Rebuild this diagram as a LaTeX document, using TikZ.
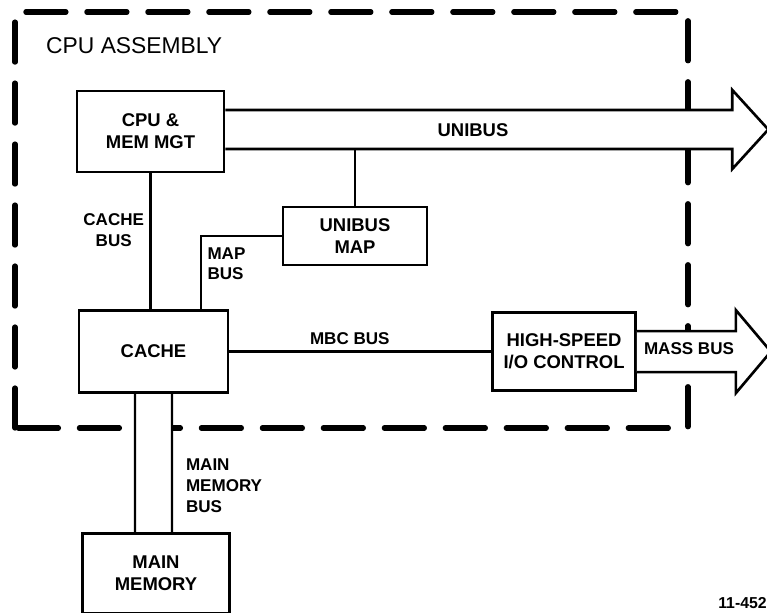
\documentclass[tikz,border=0pt]{standalone}
\usepackage{fontspec}
\setmainfont{Liberation Sans}
\usetikzlibrary{positioning, calc}

\begin{document}
\begin{tikzpicture}[
    x=0.02cm, y=-0.02cm,
    font=\fontsize{10.5}{12.5}\selectfont\bfseries,
    base/.style={draw, align=center, line width=1.5pt, inner sep=2pt},
    unit/.style={base, rectangle, minimum width=2.94cm, minimum height=1.64cm},
    mapbox/.style={base, rectangle, minimum width=2.88cm, minimum height=1.16cm},
    iobox/.style={base, rectangle, minimum width=2.86cm, minimum height=1.56cm},
    lbl/.style={font=\fontsize{9.7}{11.8}\selectfont\bfseries, align=center, inner sep=3pt},
    link/.style={line width=1.4pt},
    widebus/.style={line width=1.5pt, fill=white, line join=miter},
    frame/.style={line width=3pt, dash pattern=on 0.8cm off 0.42cm, line cap=round}
  ]
    \useasboundingbox (0,0) rectangle (767,612);
    % assembly boundary
    \draw[frame] (15,428) -- (15,12) -- (688,12) -- (688,428) -- cycle;
    \node[anchor=west, font=\fontsize{13}{15}\selectfont] (asm) at (40,46) {CPU ASSEMBLY};

    \node[unit, minimum height=1.62cm] (cpu) at (150.5,131.5) {CPU \&\\MEM MGT};
    \node[unit, minimum width=2.98cm, below=2.72cm of cpu, xshift=0.06cm] (cache) {CACHE};
    \node[unit, minimum height=1.6cm, below=2.76cm of cache, xshift=0.05cm] (mem) {MAIN\\MEMORY};
    \node[mapbox] (umap) at (355,236) {UNIBUS\\MAP};
    \node[iobox, right=5.24cm of cache] (hsio) {HIGH-SPEED\\I/O CONTROL};

    % wide buses
    \filldraw[widebus] (cpu.east) ++(0,-21.5) -- ++(507,0) -- ++(0,-20) -- ++(36,39.5)
      -- ++(-36,39.5) -- ++(0,-20) -- ++(-507,0) coordinate (ubase);
    \node[lbl, font=\fontsize{10.5}{12}\selectfont\bfseries] (unibus) at (473,130) {UNIBUS};
    \filldraw[widebus] (hsio.east) ++(0,-20.5) -- ++(99,0) -- ++(0,-21) -- ++(35,41.5)
      -- ++(-35,41.5) -- ++(0,-21) -- ++(-99,0);
    \node[lbl] (mass) at (689,349) {MASS BUS};

    % single buses
    \draw[link] (umap.north) -- (umap.north |- ubase);
    \draw[link] (cpu.south) -- (cpu.south |- cache.north)
      node[lbl, pos=0.42, left] {CACHE\\BUS};
    \draw[link] (umap.west) -| ($(cache.north)+(47.5,0)$)
      node[lbl, pos=0.69, right, align=left] {MAP\\BUS};
    \draw[link] (cache.east) -- (hsio.west)
      node[lbl, pos=0.46, above] {MBC BUS};

    % main memory bus
    \fill[white] ($(cache.south)+(-18.5,0)$) rectangle ($(mem.north)+(16,0)$);
    \draw[link] ($(cache.south)+(-18.5,0)$) -- ($(mem.north)+(-21,0)$);
    \draw[link] ($(cache.south)+(18.5,0)$) -- ($(mem.north)+(16,0)$)
      node[lbl, pos=0.667, right, align=left, xshift=0.15cm] {MAIN\\MEMORY\\BUS};

    \node[anchor=base east, inner sep=0pt, font=\fontsize{9}{10}\selectfont\bfseries] (fig) at (767,608) {11-452};
\end{tikzpicture}
\end{document}
